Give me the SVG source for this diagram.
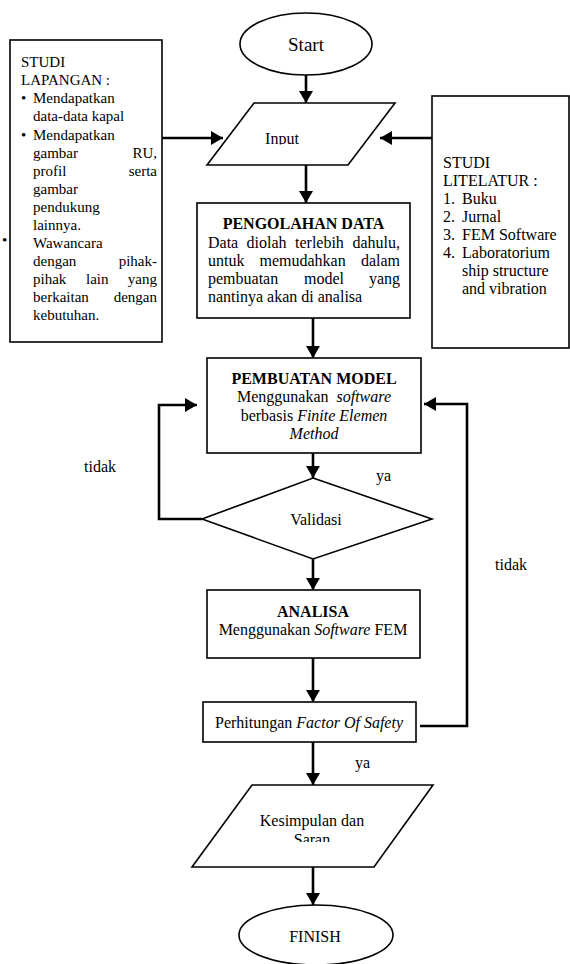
<svg xmlns="http://www.w3.org/2000/svg" width="570" height="964" viewBox="0 0 570 964">
<style>
.t{font-family:"Liberation Serif","Times New Roman",serif;font-size:16px;fill:#000}
.s15{font-size:15px}
.b{font-weight:bold}
.i{font-style:italic}
.m{text-anchor:middle}
.e{text-anchor:end}
.shape{fill:#fff;stroke:#000;stroke-width:1.6}
.conn{fill:none;stroke:#000;stroke-width:2.6}
</style>
<defs>
<marker id="ah" viewBox="0 0 12 14" refX="12" refY="7" markerWidth="12" markerHeight="14" orient="auto" markerUnits="userSpaceOnUse"><path d="M0,0 L12,7 L0,14 z" fill="#000"/></marker>
<clipPath id="clipInput"><rect x="200" y="100" width="200" height="44.5"/></clipPath>
<clipPath id="clipSaran"><rect x="190" y="780" width="250" height="62"/></clipPath>
</defs>
<rect x="0" y="0" width="570" height="964" fill="#fff"/>

<g id="connectors">
<line class="conn" x1="306" y1="75" x2="306" y2="103" marker-end="url(#ah)"/>
<line class="conn" x1="162" y1="138" x2="223" y2="138" marker-end="url(#ah)"/>
<line class="conn" x1="432" y1="138" x2="380" y2="138" marker-end="url(#ah)"/>
<line class="conn" x1="306" y1="165" x2="306" y2="203" marker-end="url(#ah)"/>
<line class="conn" x1="313" y1="318" x2="313" y2="358" marker-end="url(#ah)"/>
<line class="conn" x1="313" y1="453" x2="313" y2="478" marker-end="url(#ah)"/>
<polyline class="conn" points="202,519 159,519 159,405 197,405" marker-end="url(#ah)"/>
<line class="conn" x1="313" y1="559" x2="313" y2="590" marker-end="url(#ah)"/>
<line class="conn" x1="313" y1="658" x2="313" y2="702" marker-end="url(#ah)"/>
<polyline class="conn" points="420,726 467,726 467,404 424,404" marker-end="url(#ah)"/>
<line class="conn" x1="313" y1="742" x2="313" y2="785" marker-end="url(#ah)"/>
<line class="conn" x1="313" y1="867" x2="313" y2="905" marker-end="url(#ah)"/>
<text class="t" x="84" y="472">tidak</text>
<text class="t" x="376" y="481">ya</text>
<text class="t" x="495" y="570">tidak</text>
<text class="t" x="355" y="768">ya</text>
</g>

<g id="start">
<ellipse class="shape" cx="306" cy="44" rx="66" ry="31"/>
<text class="t m" x="306" y="51" style="font-size:19px">Start</text>
</g>

<g id="studi-lapangan">
<rect class="shape" x="10" y="40" width="152" height="302"/>
<text class="t s15" x="21" y="67">STUDI</text>
<text class="t s15" x="21" y="85">LAPANGAN :</text>
<text class="t s15" x="21" y="103">•</text>
<text class="t s15" x="33" y="103">Mendapatkan</text>
<text class="t s15" x="33" y="121">data-data kapal</text>
<text class="t s15" x="21" y="140">•</text>
<text class="t s15" x="33" y="140">Mendapatkan</text>
<text class="t s15" x="33" y="158">gambar</text>
<text class="t s15 e" x="157" y="158">RU,</text>
<text class="t s15" x="33" y="176">profil</text>
<text class="t s15 e" x="157" y="176">serta</text>
<text class="t s15" x="33" y="194">gambar</text>
<text class="t s15" x="33" y="212">pendukung</text>
<text class="t s15" x="33" y="230">lainnya.</text>
<text class="t s15" x="2" y="245">•</text>
<text class="t s15" x="33" y="248">Wawancara</text>
<text class="t s15" x="33" y="266">dengan</text>
<text class="t s15 e" x="157" y="266">pihak-</text>
<text class="t s15" x="33" y="284">pihak</text>
<text class="t s15" x="86" y="284">lain</text>
<text class="t s15 e" x="157" y="284">yang</text>
<text class="t s15" x="33" y="302">berkaitan</text>
<text class="t s15 e" x="157" y="302">dengan</text>
<text class="t s15" x="33" y="320">kebutuhan.</text>
</g>

<g id="studi-litelatur">
<rect class="shape" x="432" y="96" width="137" height="252"/>
<text class="t" x="443" y="168">STUDI</text>
<text class="t" x="443" y="186">LITELATUR :</text>
<text class="t" x="443" y="204">1.</text><text class="t" x="462" y="204">Buku</text>
<text class="t" x="443" y="222">2.</text><text class="t" x="462" y="222">Jurnal</text>
<text class="t" x="443" y="240">3.</text><text class="t" x="462" y="240">FEM Software</text>
<text class="t" x="443" y="258">4.</text><text class="t" x="462" y="258">Laboratorium</text>
<text class="t" x="462" y="276">ship structure</text>
<text class="t" x="462" y="294">and vibration</text>
</g>

<g id="input">
<polygon class="shape" points="254,103 395,103 348,165 207,165"/>
<text class="t m" x="282" y="144" clip-path="url(#clipInput)">Input</text>
</g>

<g id="pengolahan-data">
<rect class="shape" x="197" y="203" width="213" height="115"/>
<text class="t b m" x="303.5" y="229">PENGOLAHAN DATA</text>
<text class="t" x="208" y="248">Data</text>
<text class="t" x="246.6" y="248">diolah</text>
<text class="t" x="295" y="248">terlebih</text>
<text class="t e" x="400" y="248">dahulu,</text>
<text class="t" x="208" y="266">untuk</text>
<text class="t" x="259.5" y="266">memudahkan</text>
<text class="t e" x="400" y="266">dalam</text>
<text class="t" x="208" y="284">pembuatan</text>
<text class="t" x="304" y="284">model</text>
<text class="t e" x="400" y="284">yang</text>
<text class="t" x="208" y="302">nantinya akan di analisa</text>
</g>

<g id="pembuatan-model">
<rect class="shape" x="207" y="358" width="214" height="95"/>
<text class="t b m" x="314" y="384">PEMBUATAN MODEL</text>
<text class="t m" x="314" y="402">Menggunakan <tspan class="i" dx="4">software</tspan></text>
<text class="t m" x="314" y="421">berbasis <tspan class="i">Finite Elemen</tspan></text>
<text class="t m i" x="314" y="439">Method</text>
</g>

<g id="validasi">
<polygon class="shape" points="313,478 432,519 313,559 202,519"/>
<text class="t m" x="316" y="525">Validasi</text>
</g>

<g id="analisa">
<rect class="shape" x="207" y="590" width="213" height="68"/>
<text class="t b m" x="313" y="617">ANALISA</text>
<text class="t m" x="313" y="635">Menggunakan <tspan class="i">Software</tspan> FEM</text>
</g>

<g id="factor-of-safety">
<rect class="shape" x="203" y="702" width="213" height="40"/>
<text class="t m" x="309" y="728">Perhitungan <tspan class="i">Factor Of Safety</tspan></text>
</g>

<g id="kesimpulan">
<polygon class="shape" points="252,785 433,785 374,867 192,867"/>
<text class="t m" x="312" y="826">Kesimpulan dan</text>
<text class="t m" x="312" y="845" clip-path="url(#clipSaran)">Saran</text>
</g>

<g id="finish">
<ellipse class="shape" cx="316" cy="935" rx="77" ry="30"/>
<text class="t m" x="315" y="942">FINISH</text>
</g>
</svg>
